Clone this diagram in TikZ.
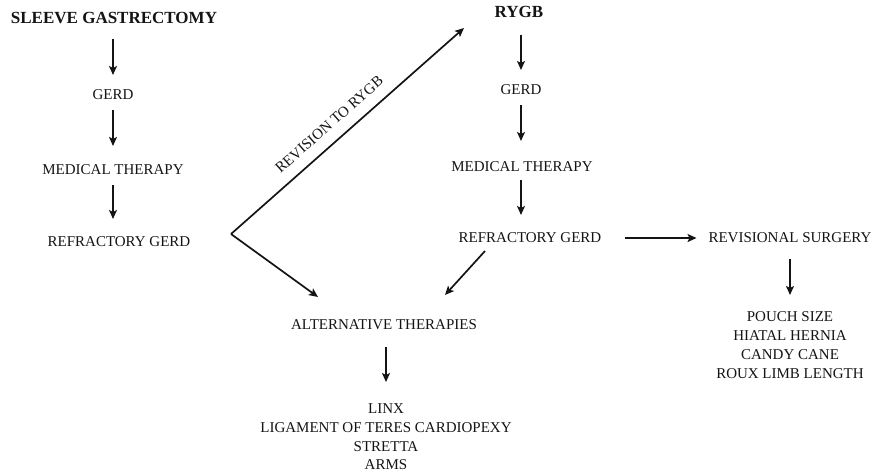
\documentclass[tikz,border=0pt]{standalone}
\usepackage{fontspec}
\setmainfont{Liberation Serif}
\usetikzlibrary{arrows.meta}
\begin{document}
\begin{tikzpicture}[x=1pt,y=-1pt,
  lbl/.style={inner sep=0pt, outer sep=0pt, text=black!92, align=center,
    font=\fontsize{15}{18.7}\selectfont},
  head/.style={lbl, font=\fontsize{17}{20}\bfseries},
  arr/.style={draw=black!92, line width=1.7pt,
    -{Stealth[length=9pt,width=8pt,inset=2pt]}},
]
\useasboundingbox (0,0) rectangle (878,475);

% sleeve gastrectomy pathway
\node[head] (sg)   at (114,18)  {SLEEVE GASTRECTOMY};
\node[lbl]  (g1)   at (113,95)  {GERD};
\node[lbl]  (mt1)  at (113,170) {MEDICAL THERAPY};
\node[lbl]  (rg1)  at (119,242) {REFRACTORY GERD};

% RYGB pathway
\node[head] (rygb) at (519,12)  {RYGB};
\node[lbl]  (g2)   at (521,90)  {GERD};
\node[lbl]  (mt2)  at (522,167) {MEDICAL THERAPY};
\node[lbl]  (rg2)  at (530,238) {REFRACTORY GERD};
\node[lbl]  (rev)  at (790,238) {REVISIONAL SURGERY};
\node[lbl, anchor=north] (revl) at (790,312)
  {POUCH SIZE\\HIATAL HERNIA\\CANDY CANE\\ROUX LIMB LENGTH};

% alternative therapies
\node[lbl]  (alt)  at (384,325) {ALTERNATIVE THERAPIES};
\node[lbl, anchor=north] (altl) at (386,404)
  {LINX\\LIGAMENT OF TERES CARDIOPEXY\\STRETTA\\ARMS};

% vertical steps
\draw[arr, shorten <=15pt, shorten >=15pt] (sg.south -| g1) -- (g1.north);
\draw[arr, shorten <=10pt, shorten >=19pt] (g1.south) -- (mt1.north);
\draw[arr, shorten <=10pt, shorten >=18pt] (mt1.south) -- (mt1.south |- rg1.north);

\draw[arr, shorten <=17pt, shorten >=15pt] (rygb.south -| g2) -- (g2.north);
\draw[arr, shorten <=10pt, shorten >=21pt] (g2.south) -- (g2.south |- mt2.north);
\draw[arr, shorten <=8pt, shorten >=18pt] (mt2.south -| g2) -- (g2 |- rg2.north);

\draw[arr, shorten <=16pt, shorten >=17pt] (rev.south) -- (revl.north);
\draw[arr, shorten <=17pt, shorten >=22pt] (alt.south -| altl) -- (altl.north);

% horizontal step to revisional surgery
\draw[arr, shorten <=24pt, shorten >=12pt] (rg2.east) -- (rev.west);

% branching from refractory GERD after sleeve
\coordinate (v) at (231,234);
\draw[arr] (v) -- ([shift={(-55,16)}]rygb.center)
  node[lbl, sloped, above=12pt, pos=0.47] (revlab) {REVISION TO RYGB};
\draw[arr] (v) -- ([shift={(-66,-28)}]alt.center);
\draw[arr] ([shift={(-45,13)}]rg2.center) -- ([shift={(61,-30)}]alt.center);
\end{tikzpicture}
\end{document}
